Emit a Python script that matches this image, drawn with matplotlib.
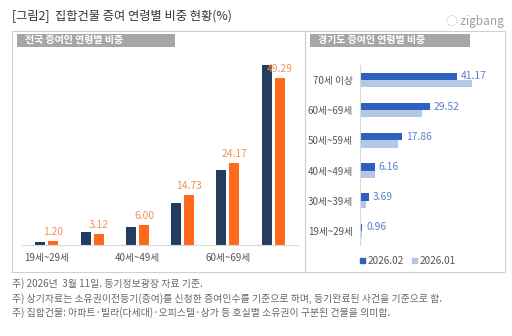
# 집합건물 증여 연령별 비중 현황 - two panel bar chart
import numpy as np
import matplotlib.pyplot as plt
from matplotlib.patches import Rectangle

plt.rcParams['font.family'] = ['Noto Sans CJK KR', 'DejaVu Sans']

# data
ages = ['19세~29세', '30세~39세', '40세~49세', '50세~59세', '60세~69세', '70세 이상']
nat_prev = [0.9, 3.7, 5.3, 12.4, 22.2, 53.1]      # navy bars
nat_cur = [1.20, 3.12, 6.00, 14.73, 24.17, 49.29]  # orange bars, labelled
gg_cur = [0.96, 3.69, 6.16, 17.86, 29.52, 41.17]   # 2026.02
gg_prev = [0.7, 2.6, 6.5, 16.0, 26.3, 47.6]        # 2026.01
notes = ['주) 2026년  3월 11일. 등기정보광장 자료 기준.',
         '주) 상기자료는 소유권이전등기(증여)를 신청한 증여인수를 기준으로 하며, 등기완료된 사건을 기준으로 함.',
         '주) 집합건물: 아파트·빌라(다세대)·오피스텔·상가 등 호실별 소유권이 구분된 건물을 의미함.']

W, H = 512, 336
fig = plt.figure(figsize=(W / 100, H / 100), dpi=100)
fig.patch.set_facecolor('white')

def fx(x): return x / W
def fy(y): return 1 - y / H

# title + logo
fig.text(fx(12), fy(16), '[그림2]  집합건물 증여 연령별 비중 현황(%)', fontsize=8.8,
         color='#333333', va='center')
fig.text(fx(504), fy(22), '◌ zigbang', fontsize=8.5, color='#a0a0a0', va='center', ha='right')

# panel boxes and header bars
for x0, x1 in [(12, 305), (305, 505)]:
    fig.patches.append(Rectangle((fx(x0), fy(272)), fx(x1 - x0), (272 - 31) / H,
                                 transform=fig.transFigure, fill=False,
                                 edgecolor='#d0d0d0', lw=0.8))
for x0, x1, txt in [(17, 175, '전국 증여인 연령별 비중'), (310, 470, '경기도 증여인 연령별 비중')]:
    fig.patches.append(Rectangle((fx(x0), fy(47)), fx(x1 - x0), 13 / H,
                                 transform=fig.transFigure, facecolor='#a6a6a6',
                                 edgecolor='none'))
    fig.text(fx(x0 + 8), fy(40.5), txt, fontsize=7.2, color='white', va='center',
             fontweight='bold')

# left panel: vertical bars
ax1 = fig.add_axes([fx(22), fy(245), fx(276), (245 - 65) / H])
x = np.arange(len(ages))
w = 0.22
ax1.bar(x - 0.145, nat_prev, w, color='#253C5E')
ax1.bar(x + 0.145, nat_cur, w, color='#FF6A1A')
for xi, v in zip(x, nat_cur):
    ax1.text(xi + 0.145, v + 1.2, f'{v:.2f}', ha='center', va='bottom', fontsize=7.4,
             color='#F7905A')
ax1.set_xlim(-0.55, 5.55)
ax1.set_ylim(0, 53.1)
ax1.set_xticks(x[::2])
ax1.set_xticklabels(ages[::2], fontsize=7, color='#555555')
ax1.tick_params(axis='x', length=0, pad=6)
ax1.set_yticks([])
for s in ['top', 'right', 'left']:
    ax1.spines[s].set_visible(False)
ax1.spines['bottom'].set_color('#d9d9d9')
ax1.spines['bottom'].set_linewidth(0.8)

# right panel: horizontal bars
ax2 = fig.add_axes([fx(360), fy(245), fx(130), (245 - 65) / H])
y = np.arange(len(ages))
h = 0.24
ax2.barh(y + 0.12, gg_cur, h, color='#2E60BF')
ax2.barh(y - 0.12, gg_prev, h, color='#B4C7E7')
for yi, v in zip(y, gg_cur):
    ax2.text(v + 1.7, yi + 0.12, f'{v:.2f}', va='center', ha='left', fontsize=7.4,
             color='#5B80CC')
ax2.set_xlim(0, 55.2)
ax2.set_ylim(-0.47, 5.5)
ax2.set_yticks(y)
ax2.set_yticklabels(ages, fontsize=7, color='#555555')
ax2.tick_params(axis='y', length=0, pad=5)
ax2.set_xticks([])
for s in ['top', 'right', 'bottom']:
    ax2.spines[s].set_visible(False)
ax2.spines['left'].set_color('#d9d9d9')
ax2.spines['left'].set_linewidth(0.8)

# legend for right panel
h1 = Rectangle((0, 0), 1, 1, color='#2E60BF')
h2 = Rectangle((0, 0), 1, 1, color='#B4C7E7')
fig.legend([h1, h2], ['2026.02', '2026.01'], loc='center', bbox_to_anchor=(fx(408), fy(261)),
           ncol=2, frameon=False, fontsize=7.2, handlelength=0.45, handleheight=0.45,
           handletextpad=0.3, columnspacing=0.8, labelcolor='#555555')

# footnotes
for i, t in enumerate(notes):
    fig.text(fx(12), fy(284 + i * 14.5), t, fontsize=7.1, color='#666666', va='center')

fig.savefig('out.png', dpi=100, facecolor='white')
